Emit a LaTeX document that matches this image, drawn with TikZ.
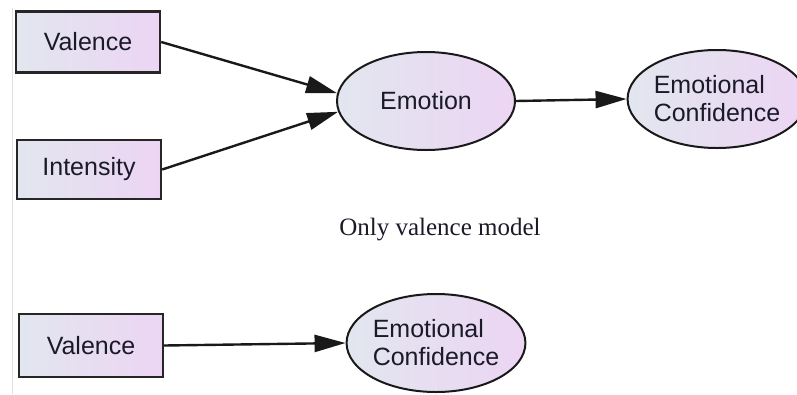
\documentclass[tikz,border=0pt]{standalone}
\usepackage{fontspec}
\setmainfont{Liberation Sans}
\newfontfamily\serifcap{Liberation Serif}
\usetikzlibrary{shapes.geometric,arrows.meta,calc}
\definecolor{fillL}{RGB}{226,230,239}
\definecolor{fillR}{RGB}{236,213,243}
\definecolor{inkc}{RGB}{26,26,40}
\tikzset{
  varbox/.style={draw=black!85, line width=2.4pt, rectangle, left color=fillL, right color=fillR,
    minimum width=144pt, minimum height=61pt, inner sep=0pt, text=inkc,
    font=\fontsize{25}{28}\selectfont},
  latent/.style={draw=black!90, line width=2pt, ellipse, left color=fillL, right color=fillR,
    minimum width=178pt, minimum height=98pt, inner sep=0pt, text=inkc, align=left,
    font=\fontsize{25}{28}\selectfont},
  link/.style={draw=black!90, line width=2.4pt, -{Triangle[length=31pt,width=17pt]}},
}
\begin{document}
\begin{tikzpicture}[x=1pt,y=-1pt]
\useasboundingbox (0,0) rectangle (797,394);
\draw[black!12, line width=1pt] (12,8) -- (12,394);
\node[varbox] (val1) at (88,42) {Valence};
\node[varbox, minimum height=59pt] (int) at (89,169.5) {Intensity};
\node[latent] (emo) at (426,101) {Emotion};
\node[latent] (ec1) at (717,99) {Emotional\\Confidence};
\node[font=\serifcap\fontsize{25}{29}\selectfont, text=inkc] (cap) at (440,230) {Only valence model};
\node[varbox, minimum height=63pt] (val2) at (91,345.5) {Valence};
\node[latent] (ec2) at (436,343) {Emotional\\Confidence};
\draw[link] (val1.east) -- (emo.175);
\draw[link] (int.east) -- (emo.187);
\draw[link] (emo.east) -- (ec1.west);
\draw[link] (val2.east) -- (ec2.west);
\end{tikzpicture}
\end{document}
